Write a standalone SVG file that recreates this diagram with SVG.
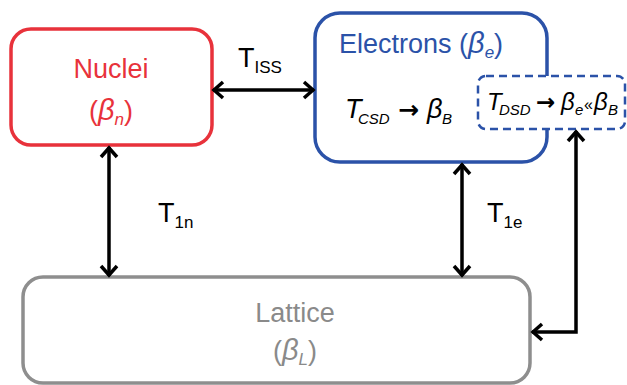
<svg xmlns="http://www.w3.org/2000/svg" width="627" height="385" viewBox="0 0 627 385">
<style>
.box{fill:#fff;stroke-width:3.5}
.t{font-family:"Liberation Sans",Arial,sans-serif;font-size:27px}
.it{font-style:italic}
.sub{font-size:17px}
.ar{font-family:"DejaVu Sans",sans-serif;font-size:28px;font-weight:bold}
.s24{font-size:24px}
.s14{font-size:15px}
.con{stroke:#000;stroke-width:3.5;fill:none}
</style>
<defs>
<marker id="ah" markerUnits="userSpaceOnUse" viewBox="-14 -10 16 20" markerWidth="16" markerHeight="20" refX="0" refY="0" orient="auto-start-reverse">
<path d="M-10,-8 L-1,0 L-10,8" fill="none" stroke="#000" stroke-width="3.5"/>
</marker>
</defs>
<g id="nuclei">
<rect class="box" x="11" y="29" width="201" height="116" rx="20" stroke="#e8323b"/>
<text class="t" x="111" y="78" text-anchor="middle" fill="#e8323b">Nuclei</text>
<text class="t" x="111" y="120" text-anchor="middle" fill="#e8323b">(<tspan class="it" style="font-size:29px">β</tspan><tspan class="it sub" dy="5">n</tspan><tspan dy="-5">)</tspan></text>
</g>
<g id="electrons">
<rect class="box" x="315" y="13" width="232" height="149" rx="25" stroke="#2b52a8"/>
<text class="t" x="339" y="53" fill="#2b52a8">Electrons (<tspan class="it" style="font-size:29px">β</tspan><tspan class="it sub" dy="5">e</tspan><tspan dy="-5">)</tspan></text>
<text class="t it" x="345" y="118">T</text>
<text class="t it s14" x="358" y="124">CSD</text>
<text class="ar" x="398" y="118" style="font-size:25px">→</text>
<text class="t it" x="427" y="118">β</text>
<text class="t it s14" x="442" y="124">B</text>
</g>
<g id="dsd">
<rect x="478" y="76" width="147" height="53" rx="8" fill="#fff" stroke="#2b52a8" stroke-width="2.5" stroke-dasharray="8 5"/>
<text class="t it s24" x="487" y="110">T</text>
<text class="t it s14" x="499" y="115">DSD</text>
<text class="ar" x="536" y="110" style="font-size:23px">→</text>
<text class="t it s24" x="561" y="110">β</text>
<text class="t it s14" x="575" y="115">e</text>
<text class="t s14" x="584" y="110" style="font-size:16px">«</text>
<text class="t it s24" x="594" y="110">β</text>
<text class="t it s14" x="608" y="115">B</text>
</g>
<g id="lattice">
<rect class="box" x="23" y="277" width="507" height="106" rx="20" stroke="#8e8e8e"/>
<text class="t" x="295" y="322" text-anchor="middle" fill="#8a8a8a">Lattice</text>
<text class="t" x="295" y="360" text-anchor="middle" fill="#8a8a8a">(<tspan class="it" style="font-size:29px">β</tspan><tspan class="it sub" dy="5">L</tspan><tspan dy="-5">)</tspan></text>
</g>
<g id="connectors">
<line class="con" x1="213" y1="90" x2="314" y2="90" marker-start="url(#ah)" marker-end="url(#ah)"/>
<line class="con" x1="109" y1="147" x2="109" y2="276" marker-start="url(#ah)" marker-end="url(#ah)"/>
<line class="con" x1="462" y1="164" x2="462" y2="276" marker-start="url(#ah)" marker-end="url(#ah)"/>
<path class="con" d="M576,131 V332 H532" marker-start="url(#ah)" marker-end="url(#ah)"/>
<text class="t" x="238" y="67">T<tspan class="sub" dy="6">ISS</tspan></text>
<text class="t" x="158" y="222">T<tspan class="sub" dy="6">1n</tspan></text>
<text class="t" x="487" y="222">T<tspan class="sub" dy="6">1e</tspan></text>
</g>
</svg>
